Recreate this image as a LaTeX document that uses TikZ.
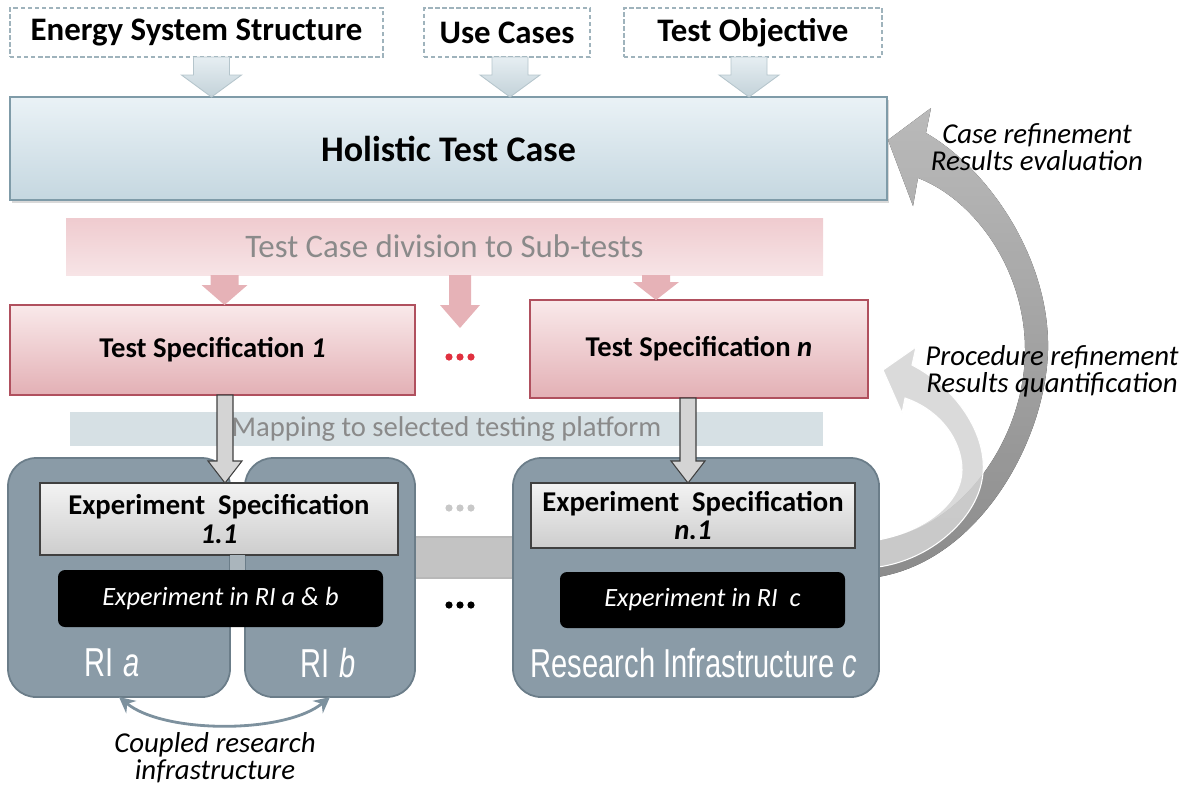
\documentclass[tikz,border=0pt]{standalone}
\usepackage{fontspec}
\setmainfont{Carlito}
\newfontfamily\narrowsans[FakeStretch=0.72]{Liberation Sans}
\usetikzlibrary{shadows,arrows.meta,calc}
\definecolor{dashc}{HTML}{9FB3BC}
\definecolor{barrowTop}{HTML}{E6EEF2}
\definecolor{barrowBot}{HTML}{C3D2D9}
\definecolor{barrowDraw}{HTML}{B5C5CC}
\definecolor{htcTop}{HTML}{EAF2F6}
\definecolor{htcBot}{HTML}{C5D7E0}
\definecolor{htcDraw}{HTML}{7F9BA8}
\definecolor{pinkTop}{HTML}{EFCBCF}
\definecolor{pinkBot}{HTML}{F7E4E6}
\definecolor{pinkArrow}{HTML}{E6B2B7}
\definecolor{tsTop}{HTML}{F9E9EA}
\definecolor{tsBot}{HTML}{E3B0B5}
\definecolor{tsDraw}{HTML}{B0505E}
\definecolor{reddot}{HTML}{E0303F}
\definecolor{mapc}{HTML}{D6E0E4}
\definecolor{grayTxt}{HTML}{8A8A8A}
\definecolor{riFill}{HTML}{8A9BA7}
\definecolor{riDraw}{HTML}{6B7D89}
\definecolor{esTop}{HTML}{F3F3F3}
\definecolor{esBot}{HTML}{CDCDCD}
\definecolor{barc}{HTML}{C3C3C3}
\definecolor{gapc}{HTML}{AAB5BC}
\definecolor{ldot}{HTML}{C8C8C8}
\definecolor{coupc}{HTML}{7D919E}
\newcommand{\setfs}[2]{\fontsize{#1}{#2}\selectfont}
\newcommand{\mkbox}[7]{\node[#6, inner sep=0pt, outer sep=0pt,
  minimum width={(#4-#2)*0.02cm}, minimum height={(#5-#3)*0.02cm}]
  (#1) at ({(#2+#4)/2},{(#3+#5)/2}) {#7};}
\begin{document}
\begin{tikzpicture}[x=0.02cm,y=-0.02cm,
  dashbox/.style={draw=dashc, dash pattern=on 2.5pt off 1.5pt, line width=0.8pt, fill=white, font=\setfs{18.7}{20}\bfseries},
  toparrow/.style={top color=barrowTop, bottom color=barrowBot, draw=barrowDraw, line width=0.5pt},
  htcbox/.style={top color=htcTop, bottom color=htcBot, draw=htcDraw, line width=1pt,
     drop shadow={shadow xshift=1.2pt, shadow yshift=-1.5pt, opacity=0.3}, font=\setfs{20.5}{22}\bfseries},
  pinkband/.style={top color=pinkTop, bottom color=pinkBot, text=grayTxt, font=\setfs{18.7}{20}},
  pinkarr/.style={fill=pinkArrow},
  tsbox/.style={top color=tsTop, bottom color=tsBot, draw=tsDraw, line width=0.8pt, font=\setfs{16.3}{18}\bfseries},
  mapband/.style={fill=mapc, text=grayTxt, font=\setfs{16.3}{18}},
  ribox/.style={fill=riFill, draw=riDraw, line width=1pt, rounded corners=16pt},
  esbox/.style={top color=esTop, bottom color=esBot, draw=black!75, line width=0.8pt, align=center, font=\setfs{16.3}{16}\bfseries},
  blkbox/.style={fill=black, rounded corners=4pt, text=white, font=\setfs{15}{17}\itshape},
  rilab/.style={text=white, inner sep=0pt, font=\narrowsans\setfs{23}{25}},
  grayarr/.style={fill=black!17, draw=black!75, line width=0.6pt},
  note/.style={align=center, inner sep=0pt, font=\setfs{16.4}{15.5}\itshape},
  bigarr/.style={top color=black!20, bottom color=black!40, fill opacity=0.9},
  smallarr/.style={fill=black!17, draw=white, line width=0.6pt, fill opacity=0.85},
  coupled/.style={draw=coupc, line width=1.6pt, {Stealth[length=9pt,width=9pt]}-{Stealth[length=9pt,width=9pt]}}
]
\useasboundingbox (0,0) rectangle (1192,789);

% feedback arrows on the right
\fill[bigarr] (926,133) .. controls (990,170) and (1050,260) .. (1048,350)
  .. controls (1046,440) and (980,560) .. (878,577) -- (878,540)
  .. controls (960,530) and (1025,440) .. (1025,350)
  .. controls (1025,270) and (975,200) .. (918,178) -- (913,206) -- (888,140) -- (931,108) -- cycle;
\filldraw[smallarr] (912,365) .. controls (960,390) and (990,440) .. (982,480)
  .. controls (975,520) and (930,560) .. (878,567) -- (878,540)
  .. controls (930,530) and (962,500) .. (962,470)
  .. controls (962,440) and (940,410) .. (905,398) -- (902,413) -- (883,370) -- (916,347) -- cycle;

% top inputs
\mkbox{esys}{10}{8}{383}{57}{dashbox}{Energy System Structure}
\mkbox{usec}{424}{8}{590}{57}{dashbox}{Use Cases}
\mkbox{tobj}{624}{8}{882}{57}{dashbox}{Test Objective}
\mkbox{htc}{10}{97}{887}{200}{htcbox}{Holistic Test Case}

\path (esys.south) ++(15,0) coordinate (t1);
\path (usec.south) ++(3,0) coordinate (t2);
\path (tobj.south) ++(-4,0) coordinate (t3);
\foreach \t in {t1,t2,t3}{
  \draw[toparrow] (\t) ++(-18,0) -- ++(36,0) -- ++(0,18) -- ++(12,0) -- (\t |- htc.north) -- ++(-30,-22) -- ++(12,0) -- cycle;
}

% division to sub-tests
\mkbox{pband}{66}{218}{823}{275}{pinkband}{Test Case division to Sub-tests}
\mkbox{ts1}{10}{305}{415}{395}{tsbox}{Test Specification \textit{1}}
\mkbox{tsn}{530}{300}{868}{398}{tsbox}{Test Specification \textit{n}}
\path (ts1.north) ++(12,0) coordinate (p1);
\path (tsn.north) ++(-43,0) coordinate (p3);
\coordinate (p2) at (460,328);
\fill[pinkarr] (p1 |- pband.south) ++(-14,0) -- ++(28,0) -- ++(0,10) -- ++(9,0) -- (p1) -- ++(-23,-20) -- ++(9,0) -- cycle;
\fill[pinkarr] (p2 |- pband.south) ++(-11,0) -- ++(22,0) -- ++(0,30) -- ++(9,0) -- (p2) -- ++(-20,-23) -- ++(9,0) -- cycle;
\fill[pinkarr] (p3 |- pband.south) ++(-14,0) -- ++(28,0) -- ++(0,7) -- ++(9,0) -- (p3) -- ++(-23,-18) -- ++(9,0) -- cycle;
\foreach \dx in {-11,0,11} \fill[reddot] (460+\dx,357) circle (3.6);

% mapping
\mkbox{map}{70}{412}{823}{446}{mapband}{Mapping to selected testing platform}

% research infrastructures
\draw[fill=barc, draw=black!28, line width=0.6pt] (410,537) rectangle (518,578);
\mkbox{ria}{8}{458}{230}{697}{ribox}{}
\mkbox{rib}{245}{458}{415}{697}{ribox}{}
\mkbox{ric}{513}{458}{879}{697}{ribox}{}
\mkbox{es1}{40}{483}{398}{555}{esbox}{Experiment\ \ Specification\\\textit{1.1}}
\mkbox{esn}{531}{483}{855}{548}{esbox}{Experiment\ \ Specification\\\textit{n.1}}
\fill[gapc] (ria.east |- es1.south) rectangle (rib.west |- 0,570);
\mkbox{bk1}{58}{570}{383}{627}{blkbox}{Experiment in RI a \& b}
\mkbox{bkc}{560}{572}{845}{628}{blkbox}{Experiment in RI\ \ c}
\node[rilab] (laba) at (112,663) {RI\hspace{0.25em}\textit{a}};
\node[rilab] (labb) at (328,663) {RI\hspace{0.25em}\textit{b}};
\node[rilab] (labc) at (694,663) {Research Infrastructure \textit{c}};
\foreach \dx in {-11,0,11} \fill[ldot] (460+\dx,508) circle (3.6);
\foreach \dx in {-11,0,11} \fill[black] (460+\dx,605) circle (3.6);

% mapping arrows
\path (es1.north) ++(6,0) coordinate (g1);
\path (esn.north) ++(-5,0) coordinate (g2);
\draw[grayarr] (g1 |- ts1.south) ++(-8,0) -- ++(16,0) -- ++(0,66) -- ++(9,0) -- (g1) -- ++(-17,-22) -- ++(9,0) -- cycle;
\draw[grayarr] (g2 |- tsn.south) ++(-8,0) -- ++(16,0) -- ++(0,63) -- ++(9,0) -- (g2) -- ++(-17,-22) -- ++(9,0) -- cycle;

% coupling
\draw[coupled] (ria.south) .. controls +(45,37) and +(-45,37) .. (rib.south);
\node[note] (coup) at (215,758) {Coupled research\\infrastructure};

% feedback labels
\node[note] (nt1) at (1037,147) {Case refinement\\Results evaluation};
\node[note] (nt2) at (1052,371) {Procedure refinement\\Results quantification};
\end{tikzpicture}
\end{document}
